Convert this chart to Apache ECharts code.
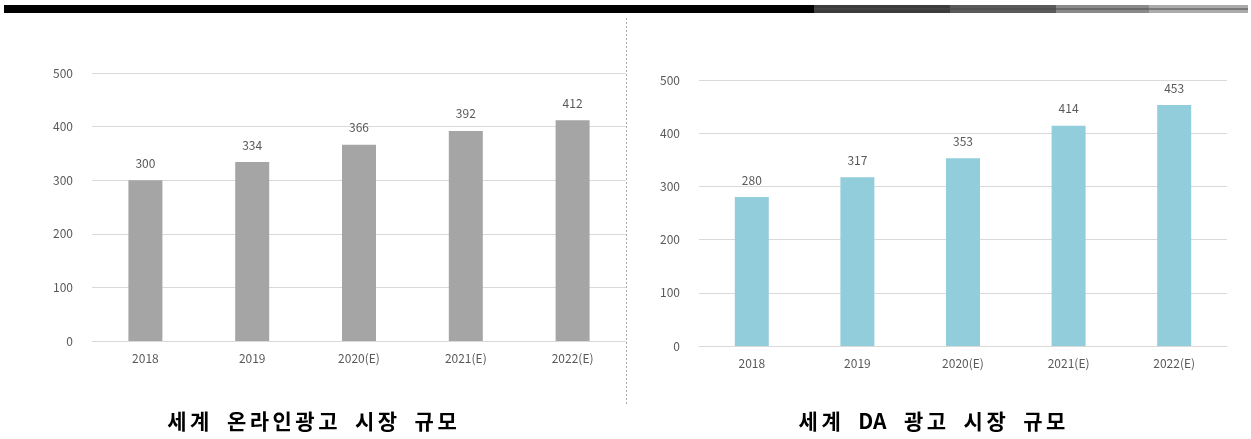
<!DOCTYPE html>
<html>
<head>
<meta charset="utf-8">
<script src="https://cdn.jsdelivr.net/npm/echarts@6/dist/echarts.min.js"></script>
<style>
  html, body { margin: 0; padding: 0; background: #fff; }
  #chart { width: 1251px; height: 439px; }
</style>
</head>
<body>
<div id="chart"></div>
<script>
// Categories and values for the two panels
const years = ['2018', '2019', '2020(E)', '2021(E)', '2022(E)'];
const onlineAdMarket = [300, 334, 366, 392, 412];
const daAdMarket = [280, 317, 353, 414, 453];
const yTicks = [0, 100, 200, 300, 400, 500];

// panel captions
const titleLeftWords = ['세계', '온라인광고', '시장', '규모'];
const titleRightWords = ['세계', 'DA', '광고', '시장', '규모'];

// loosely tracked caption: six-per-em spaces between Hangul letters, wider gaps between words
function tracked(words) {
  return words
    .map(w => /^[A-Za-z]+$/.test(w) ? w : Array.from(w).join('\u2006'))
    .join('\u2002\u2006\u2006');
}

const labelColor = '#595959';
const gridColor = '#d9d9d9';
const baseFont = '"Noto Sans CJK KR", "Noto Sans", sans-serif';

function xAxisFor(gridIndex) {
  return {
    type: 'category',
    gridIndex: gridIndex,
    data: years,
    axisLine: { lineStyle: { color: gridColor } },
    axisTick: { show: false },
    axisLabel: { color: labelColor, fontSize: 12, margin: 11, fontFamily: baseFont }
  };
}
function yAxisFor(gridIndex) {
  return {
    type: 'value',
    gridIndex: gridIndex,
    min: yTicks[0],
    max: yTicks[yTicks.length - 1],
    interval: yTicks[1] - yTicks[0],
    axisLine: { show: false },
    axisTick: { show: false },
    splitLine: { lineStyle: { color: gridColor } },
    axisLabel: { color: labelColor, fontSize: 12, margin: 19, fontFamily: baseFont }
  };
}
function barSeries(idx, values, color) {
  return {
    type: 'bar',
    xAxisIndex: idx,
    yAxisIndex: idx,
    data: values,
    barWidth: 34,
    itemStyle: { color: color },
    label: {
      show: true,
      position: 'top',
      distance: 11,
      color: labelColor,
      fontSize: 12,
      fontFamily: baseFont
    }
  };
}

const titleStyle = { fontSize: 21, fontWeight: 'bold', color: '#000', fontFamily: baseFont };

const chart = echarts.init(document.getElementById('chart'), null, { renderer: 'canvas' });
chart.setOption({
  animation: false,
  backgroundColor: '#fff',
  title: [
    { text: tracked(titleLeftWords), left: 307, top: 406, textAlign: 'center', textStyle: titleStyle },
    { text: tracked(titleRightWords), left: 927, top: 406, textAlign: 'center', textStyle: titleStyle }
  ],
  grid: [
    { left: 92, top: 73, width: 534, height: 268 },
    { left: 699, top: 80, width: 528, height: 266 }
  ],
  xAxis: [xAxisFor(0), xAxisFor(1)],
  yAxis: [yAxisFor(0), yAxisFor(1)],
  series: [
    barSeries(0, onlineAdMarket, '#a5a5a5'),
    barSeries(1, daAdMarket, '#92cddc')
  ],
  graphic: [
    // header strip
    { type: 'rect', shape: { x: 4, y: 5, width: 810, height: 8 }, style: { fill: '#000' } },
    { type: 'rect', shape: { x: 814, y: 5, width: 136, height: 8 }, style: { fill: '#3c3c3c' } },
    { type: 'rect', shape: { x: 950, y: 5, width: 106, height: 8 }, style: { fill: '#5a5a5a' } },
    { type: 'rect', shape: { x: 1056, y: 5, width: 93, height: 8 }, style: { fill: '#8a8a8a' } },
    { type: 'rect', shape: { x: 1149, y: 5, width: 99, height: 8 }, style: { fill: '#ababab' } },
    { type: 'line', shape: { x1: 814, y1: 9, x2: 1248, y2: 9 }, style: { stroke: '#4a4a4a', lineWidth: 1 } },
    // panel divider
    {
      type: 'line',
      shape: { x1: 626.5, y1: 18, x2: 626.5, y2: 405 },
      style: { stroke: '#aaaaaa', lineWidth: 1, lineDash: [2, 2] }
    }
  ]
});
</script>
</body>
</html>
